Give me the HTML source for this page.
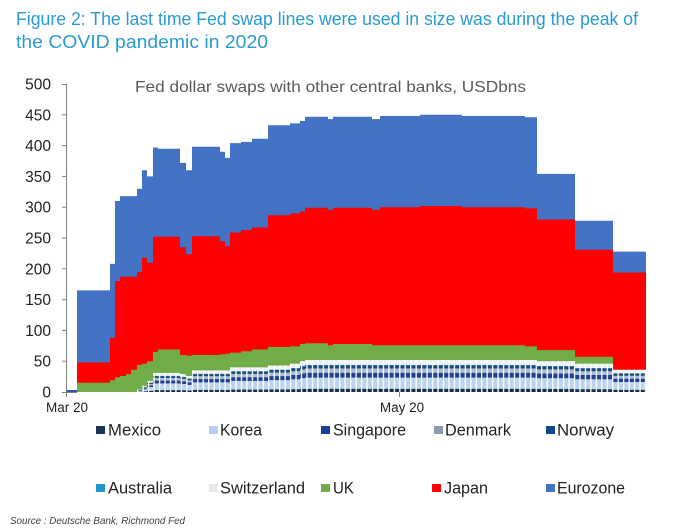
<!DOCTYPE html>
<html>
<head>
<meta charset="utf-8">
<style>
  html, body { margin: 0; padding: 0; background: #ffffff; }
  body { width: 700px; height: 530px; overflow: hidden; }
  svg { display: block; }
  text { font-family: "Liberation Sans", Arial, sans-serif; }
</style>
</head>
<body>
<svg width="700" height="530" viewBox="0 0 700 530" xmlns="http://www.w3.org/2000/svg">
  <defs>
    <g id="stk">
      <rect x="0" y="0" width="1" height="0.10" fill="#1b2d4f"/>
      <rect x="0" y="0.10" width="1" height="0.35" fill="#bcd5ef"/>
      <rect x="0" y="0.45" width="1" height="0.15" fill="#233f94"/>
      <rect x="0" y="0.60" width="1" height="0.135" fill="#a9bcd4"/>
      <rect x="0" y="0.735" width="1" height="0.095" fill="#1c4880"/>
      <rect x="0" y="0.83" width="1" height="0.015" fill="#1e94c8"/>
      <rect x="0" y="0.845" width="1" height="0.155" fill="#eef2f8"/>
    </g>
    <pattern id="st" patternUnits="userSpaceOnUse" x="77" y="0" width="5.46" height="20">
      <rect x="0" y="0" width="1.3" height="20" fill="#ffffff"/>
    </pattern>
  </defs>

  <rect x="0" y="0" width="700" height="530" fill="#ffffff"/>

  <!-- Title -->
  <text x="16" y="25" font-size="18" fill="#2a9bd1" textLength="622" lengthAdjust="spacingAndGlyphs">Figure 2: The last time Fed swap lines were used in size was during the peak of</text>
  <text x="16" y="48" font-size="18" fill="#2a9bd1" textLength="252" lengthAdjust="spacingAndGlyphs">the COVID pandemic in 2020</text>

  <!-- Subtitle -->
  <text x="135" y="92" font-size="16" fill="#595959" textLength="391" lengthAdjust="spacingAndGlyphs">Fed dollar swaps with other central banks, USDbns</text>

  <!-- Eurozone -->
  <path fill="#4472c4" d="M77,392 V290.4 H110 V263.9 H115 V201 H120 V196.1 H137 V188.7 H142 V170.2 H147 V176.4 H153 V147.5 H158 V148.7 H180 V162.9 H186 V170.2 H192 V146.8 H220 V151.8 H225 V157.9 H230 V143.1 H241 V141.9 H252 V138.8 H268 V125.3 H290 V123.4 H300 V121 H305 V116.7 H328 V119.1 H333 V116.7 H372 V119.1 H380 V116 H420 V114.8 H462 V116 H525 V117.3 H537 V173.9 H575 V220.8 H613 V251.6 H646 V392 Z"/>
  <!-- Japan -->
  <path fill="#ff0000" d="M77,392 V362.4 H110 V337.8 H115 V281.1 H120 V276.8 H137 V271.9 H142 V257.7 H147 V262.6 H153 V236.8 H180 V247.2 H186 V254 H192 V236.2 H220 V241.1 H225 V246 H230 V232.5 H241 V230 H252 V227.5 H268 V215.2 H290 V213.4 H300 V211.5 H305 V207.8 H328 V209.7 H333 V207.8 H372 V209.7 H380 V207.2 H420 V206 H462 V207.2 H525 V208.4 H537 V219.5 H575 V249.7 H613 V272.5 H646 V392 Z"/>
  <!-- UK -->
  <path fill="#70ad47" d="M77,392 V382.8 H110 V380.3 H115 V377.2 H120 V376 H126 V374.1 H131 V369.8 H137 V364.9 H142 V363.7 H147 V361.2 H153 V352 H158 V349.5 H180 V355 H186 V355.7 H192 V355 H220 V354.4 H225 V353.8 H230 V352.6 H241 V351.3 H252 V349.5 H268 V347 H290 V346.4 H300 V344 H305 V343.3 H328 V345.2 H333 V344 H372 V345.2 H525 V346.4 H537 V350.1 H575 V356.9 H613 V369.8 H646 V392 Z"/>

  <!-- smaller central banks stack -->
  <use href="#stk" transform="translate(137,392) scale(5,-2.464)"/>
  <use href="#stk" transform="translate(142,392) scale(5,-6.16)"/>
  <use href="#stk" transform="translate(147,392) scale(6,-11.088)"/>
  <use href="#stk" transform="translate(153,392) scale(27,-19.096)"/>
  <use href="#stk" transform="translate(180,392) scale(6,-17.864)"/>
  <use href="#stk" transform="translate(186,392) scale(6,-16.016)"/>
  <use href="#stk" transform="translate(192,392) scale(38,-21.56)"/>
  <use href="#stk" transform="translate(230,392) scale(38,-24.64)"/>
  <use href="#stk" transform="translate(268,392) scale(22,-26.488)"/>
  <use href="#stk" transform="translate(290,392) scale(10,-28.336)"/>
  <use href="#stk" transform="translate(300,392) scale(5,-30.8)"/>
  <use href="#stk" transform="translate(305,392) scale(232,-32.032)"/>
  <use href="#stk" transform="translate(537,392) scale(38,-30.8)"/>
  <use href="#stk" transform="translate(575,392) scale(38,-28.336)"/>
  <use href="#stk" transform="translate(613,392) scale(33,-22.176)"/>

  <!-- column separators -->
  <rect x="137" y="389.5" width="5" height="2.5" fill="url(#st)"/>
  <rect x="142" y="385.8" width="5" height="6.2" fill="url(#st)"/>
  <rect x="147" y="380.9" width="6" height="11.1" fill="url(#st)"/>
  <rect x="153" y="372.9" width="27" height="19.1" fill="url(#st)"/>
  <rect x="180" y="374.1" width="6" height="17.9" fill="url(#st)"/>
  <rect x="186" y="376" width="6" height="16" fill="url(#st)"/>
  <rect x="192" y="370.4" width="38" height="21.6" fill="url(#st)"/>
  <rect x="230" y="367.4" width="38" height="24.6" fill="url(#st)"/>
  <rect x="268" y="365.5" width="22" height="26.5" fill="url(#st)"/>
  <rect x="290" y="363.7" width="10" height="28.3" fill="url(#st)"/>
  <rect x="300" y="361.2" width="5" height="30.8" fill="url(#st)"/>
  <rect x="305" y="360" width="232" height="32" fill="url(#st)"/>
  <rect x="537" y="361.2" width="38" height="30.8" fill="url(#st)"/>
  <rect x="575" y="363.7" width="38" height="28.3" fill="url(#st)"/>
  <rect x="613" y="369.8" width="33" height="22.2" fill="url(#st)"/>

  <!-- tiny bar at start -->
  <rect x="66" y="390" width="11" height="2" fill="#2f55a4"/>

  <!-- Axes -->
  <g stroke="#808080" stroke-width="1" fill="none">
    <line x1="66.5" y1="84" x2="66.5" y2="392"/>
    <line x1="62" y1="392.5" x2="77" y2="392.5"/>
    <line x1="62" y1="84.5" x2="66" y2="84.5"/>
    <line x1="62" y1="114.8" x2="66" y2="114.8"/>
    <line x1="62" y1="145.6" x2="66" y2="145.6"/>
    <line x1="62" y1="176.4" x2="66" y2="176.4"/>
    <line x1="62" y1="207.2" x2="66" y2="207.2"/>
    <line x1="62" y1="238" x2="66" y2="238"/>
    <line x1="62" y1="268.8" x2="66" y2="268.8"/>
    <line x1="62" y1="299.6" x2="66" y2="299.6"/>
    <line x1="62" y1="330.4" x2="66" y2="330.4"/>
    <line x1="62" y1="361.2" x2="66" y2="361.2"/>
    <line x1="66.5" y1="392" x2="66.5" y2="397"/>
    <line x1="399.5" y1="392" x2="399.5" y2="397"/>
  </g>

  <!-- Y labels -->
  <g font-size="15.5" fill="#222222" text-anchor="end">
    <text x="51" y="89.5">500</text>
    <text x="51" y="120.3">450</text>
    <text x="51" y="151.1">400</text>
    <text x="51" y="181.9">350</text>
    <text x="51" y="212.7">300</text>
    <text x="51" y="243.5">250</text>
    <text x="51" y="274.3">200</text>
    <text x="51" y="305.1">150</text>
    <text x="51" y="335.9">100</text>
    <text x="51" y="366.7">50</text>
    <text x="51" y="397.5">0</text>
  </g>

  <!-- X labels -->
  <g font-size="13.5" fill="#222222" text-anchor="middle">
    <text x="67" y="412">Mar 20</text>
    <text x="402" y="412">May 20</text>
  </g>

  <!-- Legend -->
  <g font-size="16.5" fill="#222222">
    <rect x="96" y="426" width="9" height="8" fill="#1b3554"/>
    <text x="108" y="435.5" textLength="53" lengthAdjust="spacingAndGlyphs">Mexico</text>
    <rect x="209" y="426" width="9" height="8" fill="#b4d2ee"/>
    <text x="220" y="435.5" textLength="42" lengthAdjust="spacingAndGlyphs">Korea</text>
    <rect x="321" y="426" width="9" height="8" fill="#1f3c99"/>
    <text x="333" y="435.5" textLength="73" lengthAdjust="spacingAndGlyphs">Singapore</text>
    <rect x="434" y="426" width="9" height="8" fill="#8a9bb0"/>
    <text x="445" y="435.5" textLength="66" lengthAdjust="spacingAndGlyphs">Denmark</text>
    <rect x="546" y="426" width="9" height="8" fill="#0f4a87"/>
    <text x="557" y="435.5" textLength="57" lengthAdjust="spacingAndGlyphs">Norway</text>

    <rect x="96" y="484" width="9" height="8" fill="#1e94c8"/>
    <text x="108" y="493.5" textLength="64" lengthAdjust="spacingAndGlyphs">Australia</text>
    <rect x="209" y="484" width="9" height="8" fill="#e6ebf2"/>
    <text x="220" y="493.5" textLength="85" lengthAdjust="spacingAndGlyphs">Switzerland</text>
    <rect x="321" y="484" width="9" height="8" fill="#70ad47"/>
    <text x="333" y="493.5" textLength="21" lengthAdjust="spacingAndGlyphs">UK</text>
    <rect x="432" y="484" width="9" height="8" fill="#ff0000"/>
    <text x="444" y="493.5" textLength="44" lengthAdjust="spacingAndGlyphs">Japan</text>
    <rect x="546" y="484" width="9" height="8" fill="#4472c4"/>
    <text x="557" y="493.5" textLength="68" lengthAdjust="spacingAndGlyphs">Eurozone</text>
  </g>

  <!-- Source -->
  <text x="10" y="524" font-size="10" font-style="italic" fill="#404040" textLength="175" lengthAdjust="spacingAndGlyphs">Source : Deutsche Bank, Richmond Fed</text>
</svg>
</body>
</html>
